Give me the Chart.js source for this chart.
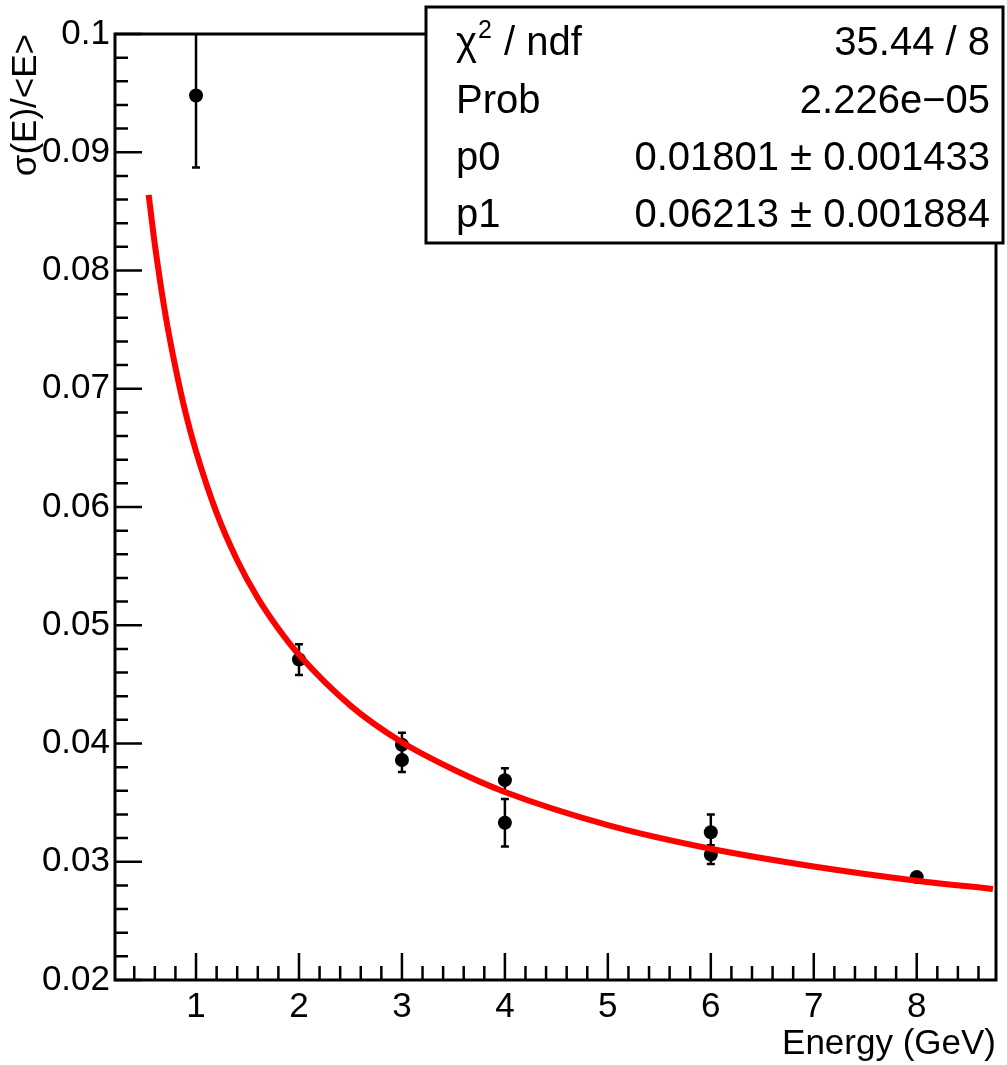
<!DOCTYPE html>
<html lang="en">
<head>
    <meta charset="UTF-8">
    <title>Energy resolution fit</title>
    <script src="https://cdn.jsdelivr.net/npm/chart.js"></script>
    <style>
        body {
            margin: 0;
            background-color: white;
        }
        .chart-box {
            width: 1007px;
            height: 1065px;
        }
    </style>
</head>
<body>
    <div class="chart-box">
        <canvas id="resolution"></canvas>
    </div>

    <script>
        // measured points
        const energy = [1, 2, 3, 3, 4, 4, 6, 6, 8];
        const resolution = [0.0948, 0.0471, 0.0399, 0.0386, 0.0369, 0.0333, 0.0325, 0.0306, 0.0287];
        const resolutionErr = [0.0061, 0.0013, 0.0010, 0.0010, 0.0010, 0.0020, 0.0015, 0.0008, 0.0003];

        // fitted curve
        const fitEnergy = [0.54, 0.6, 0.7, 0.8, 0.9, 1.0, 1.2, 1.4, 1.6, 1.8, 2.0, 2.5, 3, 3.5, 4, 5, 6, 7, 8, 8.74];
        const fitValue = [0.0864, 0.0822, 0.0764, 0.0718, 0.0679, 0.0647, 0.0595, 0.0555, 0.0523, 0.0497, 0.0475,
                          0.0432, 0.0401, 0.0378, 0.0359, 0.0331, 0.0311, 0.0296, 0.0284, 0.0277];

        // axis ticks
        const xTicks = [1, 2, 3, 4, 5, 6, 7, 8];
        const yTicks = [0.02, 0.03, 0.04, 0.05, 0.06, 0.07, 0.08, 0.09, 0.1];

        // stats box
        const statLabels = ['χ2 / ndf', 'Prob', 'p0', 'p1'];
        const statValues = ['35.44 / 8', '2.226e\u221205', '0.01801 \u00b1 0.001433', '0.06213 \u00b1 0.001884'];

        const FONT = "'Liberation Sans', Arial, sans-serif";
        Chart.defaults.font.family = FONT;
        Chart.defaults.color = '#000';

        // error bars under the markers
        const errorBars = {
            id: 'errorBars',
            beforeDatasetsDraw(chart) {
                const ctx = chart.ctx;
                const xs = chart.scales.x, ys = chart.scales.y;
                const area = chart.chartArea;
                ctx.save();
                ctx.beginPath();
                ctx.rect(area.left, area.top, area.right - area.left, area.bottom - area.top);
                ctx.clip();
                ctx.strokeStyle = '#000';
                ctx.lineWidth = 2.5;
                energy.forEach((e, i) => {
                    const px = xs.getPixelForValue(e);
                    const top = ys.getPixelForValue(resolution[i] + resolutionErr[i]);
                    const bot = ys.getPixelForValue(resolution[i] - resolutionErr[i]);
                    ctx.beginPath();
                    ctx.moveTo(px, top);
                    ctx.lineTo(px, bot);
                    ctx.moveTo(px - 4, top);
                    ctx.lineTo(px + 4, top);
                    ctx.moveTo(px - 4, bot);
                    ctx.lineTo(px + 4, bot);
                    ctx.stroke();
                });
                ctx.restore();
            }
        };

        // ROOT style frame with inward ticks, and the fit box
        const frameTicks = {
            id: 'frameTicks',
            afterDatasetsDraw(chart) {
                const ctx = chart.ctx;
                const xs = chart.scales.x, ys = chart.scales.y;
                const a = chart.chartArea;
                ctx.save();
                ctx.strokeStyle = '#000';
                ctx.lineWidth = 3;
                ctx.lineCap = 'square';
                ctx.strokeRect(a.left, a.top, a.right - a.left, a.bottom - a.top);

                ctx.lineWidth = 2.5;
                ctx.lineCap = 'butt';
                ctx.beginPath();
                // x minor every 0.2, major at integers
                for (let k = 1; k * 0.2 <= xs.max; k++) {
                    const v = k * 0.2;
                    if (v < xs.min) continue;
                    const px = xs.getPixelForValue(v);
                    const len = (k % 5 === 0) ? 27 : 14;
                    ctx.moveTo(px, a.bottom);
                    ctx.lineTo(px, a.bottom - len);
                }
                // y minor every 0.002
                for (let k = 10; k <= 50; k++) {
                    const v = k * 0.002;
                    const py = ys.getPixelForValue(v);
                    const len = (k % 5 === 0) ? 27 : 13;
                    ctx.moveTo(a.left, py);
                    ctx.lineTo(a.left + len, py);
                }
                ctx.stroke();
                ctx.restore();
            },
            afterDraw(chart) {
                const ctx = chart.ctx;
                const bx = 426, by = 7, bw = 577, bh = 236;
                ctx.save();
                ctx.fillStyle = '#fff';
                ctx.fillRect(bx, by, bw, bh);
                ctx.strokeStyle = '#000';
                ctx.lineWidth = 3;
                ctx.strokeRect(bx, by, bw, bh);

                ctx.fillStyle = '#000';
                ctx.textBaseline = 'alphabetic';
                const rowBase = [55, 113, 170, 227];
                statLabels.forEach((lab, i) => {
                    const y = rowBase[i];
                    ctx.font = '40px ' + FONT;
                    ctx.textAlign = 'left';
                    if (i === 0) {
                        // chi with superscript 2
                        ctx.fillText('χ', 456, y);
                        const w = ctx.measureText('χ').width;
                        ctx.font = '25px ' + FONT;
                        ctx.fillText('2', 456 + w + 1, y - 17);
                        const w2 = ctx.measureText('2').width;
                        ctx.font = '40px ' + FONT;
                        ctx.fillText(' / ndf', 456 + w + w2 + 2, y);
                    } else {
                        ctx.fillText(lab, 456, y);
                    }
                    ctx.textAlign = 'right';
                    ctx.fillText(statValues[i], 990, y);
                });
                ctx.restore();
            }
        };

        new Chart(document.getElementById('resolution'), {
            type: 'scatter',
            data: {
                datasets: [{
                    label: 'fit',
                    type: 'line',
                    data: fitEnergy.map((e, i) => ({ x: e, y: fitValue[i] })),
                    borderColor: '#ff0000',
                    borderWidth: 6,
                    pointRadius: 0,
                    cubicInterpolationMode: 'monotone',
                    fill: false,
                    order: 0
                },
                {
                    label: 'data',
                    data: energy.map((e, i) => ({ x: e, y: resolution[i] })),
                    backgroundColor: '#000',
                    borderWidth: 0,
                    pointRadius: 7,
                    order: 1
                }]
            },
            options: {
                responsive: true,
                maintainAspectRatio: false,
                animation: false,
                events: [],
                layout: {
                    padding: { left: 0, top: 34, right: 11, bottom: 0 }
                },
                plugins: {
                    legend: { display: false },
                    tooltip: { enabled: false }
                },
                scales: {
                    x: {
                        type: 'linear',
                        min: 0.213,
                        max: 8.77,
                        afterBuildTicks: s => { s.ticks = xTicks.map(v => ({ value: v })); },
                        afterFit: s => { s.height = 85; },
                        grid: { display: false, drawTicks: false },
                        border: { display: false },
                        ticks: {
                            font: { size: 35 },
                            color: '#000',
                            padding: 6,
                            maxRotation: 0,
                            autoSkip: false,
                            callback: v => String(v)
                        },
                        title: {
                            display: true,
                            text: 'Energy (GeV)',
                            align: 'end',
                            font: { size: 35 },
                            color: '#000',
                            padding: { top: 0, bottom: 0 }
                        }
                    },
                    y: {
                        type: 'linear',
                        min: 0.02,
                        max: 0.1,
                        afterBuildTicks: s => { s.ticks = yTicks.map(v => ({ value: v })); },
                        afterFit: s => { s.width = 115; },
                        grid: { display: false, drawTicks: false },
                        border: { display: false },
                        ticks: {
                            font: { size: 35 },
                            color: '#000',
                            padding: 5,
                            autoSkip: false,
                            callback: v => String(+v.toFixed(2))
                        },
                        title: {
                            display: true,
                            text: 'σ(E)/<E>',
                            align: 'end',
                            font: { size: 35 },
                            color: '#000',
                            padding: { top: 5, bottom: 0 }
                        }
                    }
                }
            },
            plugins: [errorBars, frameTicks]
        });
    </script>
</body>
</html>
